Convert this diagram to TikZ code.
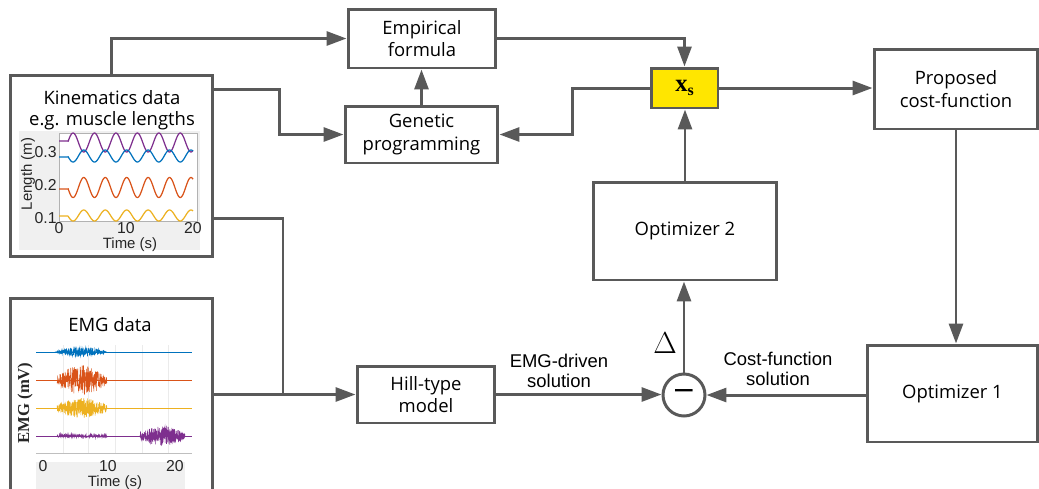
\documentclass[tikz,border=0pt]{standalone}
\usepackage{fontspec}
\setmainfont{Open Sans}
\newfontfamily\arialfont{Liberation Sans}
\newfontfamily\timesfont{Liberation Serif}
\newfontfamily\symfont{DejaVu Sans}
\usetikzlibrary{arrows.meta}

\definecolor{lnclr}{HTML}{595959}
\definecolor{xsfill}{HTML}{FFE600}
\definecolor{plotbg}{HTML}{F0F0F0}
\definecolor{mblue}{HTML}{0072BD}
\definecolor{morange}{HTML}{D95319}
\definecolor{myellow}{HTML}{EDB120}
\definecolor{mpurple}{HTML}{7E2F8E}

\begin{document}
\begin{tikzpicture}[x=0.02cm, y=-0.02cm, >={Triangle[length=0.4cm,width=0.28cm]},
                    font=\fontsize{10.5}{13}\selectfont]
  \tikzstyle{blk}=[draw=lnclr, line width=1.7pt, fill=white, inner sep=0pt,
                   align=center]
  \tikzstyle{arr}=[->, draw=lnclr, line width=1.7pt]
  \tikzstyle{wire}=[draw=lnclr, line width=1.7pt]
  \tikzstyle{lbl}=[align=center, font=\arialfont\fontsize{10.5}{11.5}\selectfont]
  \tikzstyle{tick}=[inner sep=0pt, text=black!85, font=\arialfont\fontsize{9}{9}\selectfont]
  \useasboundingbox (0,0) rectangle (1039,488);

  % ================= blocks =================
  \node[blk, minimum width=4.06cm, minimum height=3.64cm] (kin) at (111.5,166) {};
  \node[blk, minimum width=4.06cm, minimum height=4.04cm] (emg) at (111.5,399) {};
  \node[blk, minimum width=2.96cm, minimum height=1.18cm] (ef) at (422,38.5) {Empirical\\formula};
  \node[blk, minimum width=3.06cm, minimum height=1.14cm] (gp) at (421.5,134.5) {Genetic\\programming};
  \node[blk, fill=xsfill, minimum width=1.34cm, minimum height=0.8cm] (xs) at (684.5,88)
       {\timesfont\bfseries\fontsize{14}{14}\selectfont x\raisebox{-0.3ex}{\fontsize{9}{9}\selectfont s}};
  \node[blk, minimum width=3.28cm, minimum height=1.6cm] (pcf) at (956,89) {Proposed\\cost-function};
  \node[blk, minimum width=3.68cm, minimum height=1.96cm] (opt2) at (685,231) {Optimizer 2};
  \node[blk, minimum width=3.42cm, minimum height=1.94cm] (opt1) at (952.5,393.5) {Optimizer 1};
  \node[blk, minimum width=2.76cm, minimum height=1.14cm] (hill) at (426,394.5) {Hill-type\\model};
  \node[blk, circle, minimum size=0.84cm] (minus) at (684,395)
       {\symfont\fontsize{16}{16}\selectfont −};

  \node[align=center] (kintitle) at (112,110.5) {Kinematics data\\[-1pt]e.g. muscle lengths};
  \node (emgtitle) at (110,325) {EMG data};

  \node[lbl] (emglbl) at (559,371) {EMG-driven\\solution};
  \node[lbl] (cflbl) at (778,369) {Cost-function\\solution};
  \node (delta) at (665,343) {\fontsize{17}{17}\selectfont $\Delta$};

  % ================= muscle length plot =================
  \fill[plotbg] (19,131) rectangle (200,250);
  \fill[white] (59,133) rectangle (197,221);
  \draw[black!30, line width=0.4pt] (59,133) rectangle (197,221);
  \draw[mpurple, line width=0.7pt] plot[domain=0:20, samples=220]
       ({59+6.7*\x}, {\x<1.3 ? 141 : 142.5-9.5*sin(360*(\x-1.3)/3.2)});
  \draw[mblue, line width=0.7pt] plot[domain=0:20, samples=220]
       ({59+6.7*\x}, {\x<1.3 ? 157 : 156+6*sin(360*(\x-1.3)/3.2)});
  \draw[morange, line width=0.7pt] plot[domain=0:20, samples=220]
       ({59+6.7*\x}, {\x<1.3 ? 189 : 187.5+10*sin(360*(\x-1.3)/3.2)});
  \draw[myellow, line width=0.7pt] plot[domain=0:20, samples=220]
       ({59+6.7*\x}, {\x<1.3 ? 216 : 215.5+5.5*sin(360*(\x-1.3)/3.2)});
  \foreach \v/\yy in {3/152, 2/185, 1/218}
    \node[tick, anchor=east] (ky\v) at (57,\yy) {0.\v};
  \foreach \v/\xx in {0/59, 10/126, 20/193}
    \node[tick] (kx\v) at (\xx,228) {\v};
  \node[tick, font=\arialfont\fontsize{8.5}{8.5}\selectfont] (ktime) at (130,245) {Time (s)};
  \node[tick, rotate=90, font=\arialfont\fontsize{8.5}{8.5}\selectfont] (klen) at (28,174) {Length (m)};

  % ================= EMG plot =================
  \fill[white] (36,345) rectangle (192,453);
  \foreach \xx in {63,88,115,142,168}
    \draw[black!8, line width=0.4pt] (\xx,345) -- (\xx,453);
  \draw[black!25, line width=0.4pt] (36,453) -- (192,453);
  \fill[plotbg] (36,462) rectangle (185,492);
  \pgfmathsetseed{11}
  \draw[mblue, line width=0.5pt] (36,352) -- (192,352);
  \draw[mblue, line width=0.3pt] plot[domain=55:107, samples=300]
       (\x, {352+5*sin(180*(\x-55)/52)*rand});
  \draw[morange, line width=0.5pt] (36,380) -- (192,380);
  \draw[morange, line width=0.3pt] plot[domain=57:107, samples=300]
       (\x, {380+(4+11*sin(180*(\x-57)/50))*rand});
  \draw[myellow, line width=0.5pt] (36,408) -- (192,408);
  \draw[myellow, line width=0.3pt] plot[domain=57:107, samples=300]
       (\x, {408+(3+7*sin(180*(\x-57)/50))*rand});
  \draw[mpurple, line width=0.5pt] (36,436) -- (192,436);
  \draw[mpurple, line width=0.3pt] plot[domain=57:107, samples=200]
       (\x, {436+1.5*rand});
  \draw[mpurple, line width=0.3pt] plot[domain=140:185, samples=300]
       (\x, {436+(3+7*sin(180*(\x-140)/45))*rand});
  \foreach \v/\xx in {0/43, 10/108, 20/175}
    \node[tick] (ex\v) at (\xx,466) {\v};
  \node[tick, font=\arialfont\fontsize{8.5}{8.5}\selectfont] (etime) at (115,483) {Time (s)};
  \node[tick, rotate=90, font=\timesfont\bfseries\fontsize{9.5}{9.5}\selectfont] (emv) at (25,403) {EMG (mV)};

  % ================= connectors =================
  \draw[arr] (kin.north) |- (ef.west);
  \draw[arr] ([yshift=-0.32cm]kin.north east) -- ++(65,0) |- (gp.west);
  \draw[arr] (gp.north) -- (gp.north |- ef.south);
  \draw[arr] (ef.east) -| (xs.north);
  \draw[arr] (xs.west) -- ++(-77,0) |- (gp.east);
  \draw[arr] (xs.east) -- (xs.east -| pcf.west);
  \draw[arr] (pcf.south) -- (pcf.south |- opt1.north);
  \draw[arr] (opt1.west |- minus) -- (minus.east);
  \draw[arr] (minus.north) -- (minus.north |- opt2.south);
  \draw[arr] (opt2.north) -- (opt2.north |- xs.south);
  \coordinate (jn) at (283,394.5);
  \draw[wire] ([yshift=0.8cm]kin.south east) -| (jn);
  \draw[arr] (emg.east |- hill.west) -- (hill.west);
  \draw[arr] (hill.east) -- (hill.east -| minus.west);
\end{tikzpicture}
\end{document}
